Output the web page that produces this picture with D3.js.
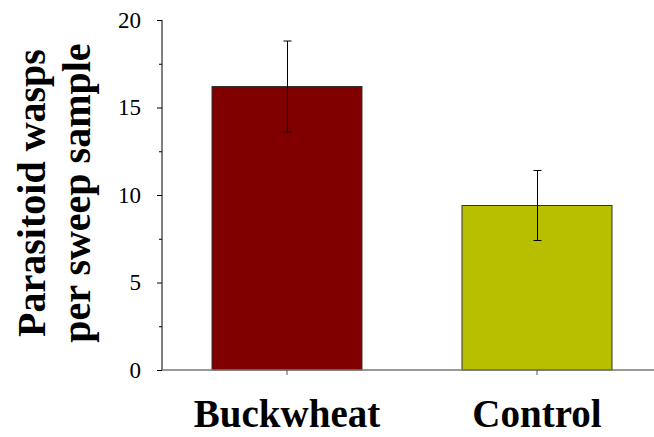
<!DOCTYPE html>
<html><head><meta charset="utf-8">
<script src="https://cdn.jsdelivr.net/npm/d3@7"></script>
<style>body{margin:0;background:#fff}svg{display:block}
text{font-family:"Liberation Serif","Times New Roman",Tinos,"DejaVu Serif",serif !important;}</style>
</head><body>
<script>
const categories = ["Buckwheat", "Control"];
const means = [16.2, 9.4];
const errors = [2.6, 2.0];
const colors = ["#800000", "#b8bf00"];
const yTicks = [0, 5, 10, 15, 20];
const yMinorTicks = [2.5, 7.5, 12.5, 17.5];
const yTitle = ["Parasitoid wasps", "per sweep sample"];

const W = 654, H = 437;
const svg = d3.select("body").append("svg").attr("width", W).attr("height", H);
const x0 = 162, x1 = 662, yTop = 20, yBot = 370;
const x = d3.scaleBand().domain(categories).range([x0, x1]).paddingInner(0.4).paddingOuter(0.2);
const y = d3.scaleLinear().domain([0, 20]).range([yBot, yTop]);

// bars
svg.selectAll("rect.bar").data(categories).join("rect")
  .attr("x", d => x(d)).attr("width", x.bandwidth())
  .attr("y", (d, i) => y(means[i])).attr("height", (d, i) => y(0) - y(means[i]))
  .attr("fill", (d, i) => colors[i]).attr("stroke", "#333").attr("stroke-width", 1);

// error bars
const eb = svg.append("g").attr("stroke", "#000").attr("stroke-width", 1);
categories.forEach((c, i) => {
  const cx = Math.round(x(c) + x.bandwidth() / 2) + 0.5;
  const t = y(means[i] + errors[i]), b = y(means[i] - errors[i]);
  eb.append("line").attr("x1", cx).attr("x2", cx).attr("y1", t).attr("y2", b);
  eb.append("line").attr("x1", cx - 4).attr("x2", cx + 4).attr("y1", t).attr("y2", t);
  eb.append("line").attr("x1", cx - 4).attr("x2", cx + 4).attr("y1", b).attr("y2", b);
});

// y axis
const ya = svg.append("g").attr("transform", `translate(${x0},0)`)
  .call(d3.axisLeft(y).tickValues(yTicks).tickSize(5).tickPadding(16).tickFormat(d3.format("d")));
ya.attr("font-family", null);
ya.select(".domain").attr("stroke", "#000").attr("d", `M0,${yTop}V${yBot}`);
ya.selectAll(".tick line").attr("stroke", "#000");
ya.selectAll(".tick text").style("font-size", "23px").attr("fill", "#000");
svg.append("g").attr("transform", `translate(${x0},0)`).selectAll("line").data(yMinorTicks).join("line")
  .attr("x1", -3).attr("x2", 0).attr("y1", d => y(d) + 0.5).attr("y2", d => y(d) + 0.5).attr("stroke", "#000");

// x axis
const xa = svg.append("g").attr("transform", `translate(0,${yBot})`)
  .call(d3.axisBottom(x).tickSize(5).tickPadding(26));
xa.attr("font-family", null);
xa.select(".domain").attr("stroke", "#777").attr("stroke-width", 1.5).attr("d", `M${x0},0H${x1}`);
xa.selectAll(".tick line").attr("stroke", "#555");
xa.selectAll(".tick text").attr("y", 57).attr("dy", null)
  .style("font-size", "39px").style("font-weight", "bold").attr("fill", "#000");

// y title
const yt = svg.append("text").attr("transform", "translate(0,193) rotate(-90)")
  .attr("text-anchor", "middle")
  .style("font-size", "40px").style("font-weight", "bold").attr("fill", "#000");
yt.selectAll("tspan").data(yTitle).join("tspan").attr("x", 0).attr("y", (d, i) => 45 + i * 45).text(d => d);
</script>
</body></html>
